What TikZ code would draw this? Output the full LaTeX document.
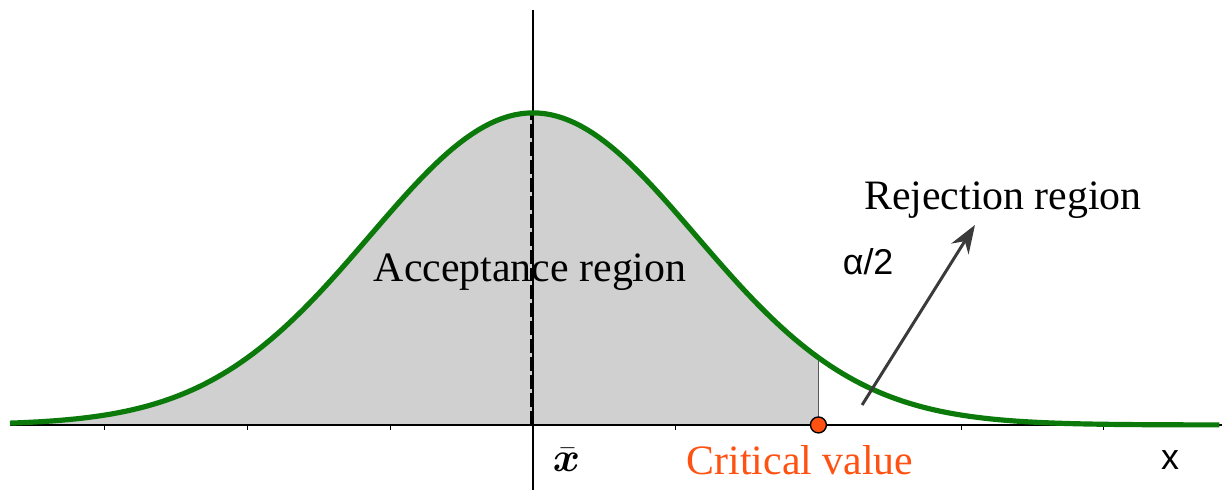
\documentclass[tikz,border=0pt]{standalone}
\usepackage{fontspec}
\setmainfont{Liberation Serif}
\newfontfamily\plotsans{Liberation Sans}
\usepackage{amsmath}
\usepackage{bm}
\usetikzlibrary{arrows.meta}
\definecolor{CurveGreen}{HTML}{0B7A0B}
\definecolor{RegionGray}{HTML}{D0D0D0}
\definecolor{CritOrange}{HTML}{FF5212}
\definecolor{ArrowInk}{HTML}{3A3A3A}

\begin{document}
\begin{tikzpicture}[x=2.517cm,y=5.503cm,font=\fontsize{21}{24}\selectfont]
  \useasboundingbox (-3.735,-0.2083) rectangle (4.828,1.362);
  % shaded acceptance area
  \fill[RegionGray] plot[domain=-3.665:2,samples=160] (\x,{exp(-\x*\x/(2*1.142*1.142))})
    -- (2,0) -- (-3.665,0) -- cycle;
  \draw[gray!70!black,thin] (2,0) -- (2,{exp(-4/(2*1.142*1.142))});
  % axes
  \draw[black,line width=0.6pt] (-3.665,0) -- (4.828,0);
  \foreach \t in {-3,-2,-1,1,2,3,4}
    \draw[black,line width=0.6pt] (\t,0) -- (\t,-0.016);
  \draw[black,line width=0.6pt] (0,1.33) -- (0,-0.2083);
  \draw[black,line width=1.4pt,dash pattern=on 7pt off 2pt] (-0.012,0) -- (-0.012,1);
  % density curve
  \draw[CurveGreen,line width=2.6pt] plot[domain=-3.665:4.81,samples=200]
    (\x,{exp(-\x*\x/(2*1.142*1.142))});
  \node (accept) at (-0.02,0.49) {Acceptance region};
  \node (reject) at (3.293,0.721) {Rejection region};
  \node (alpha) at (2.348,0.522) {\fontsize{18}{20}\selectfont\plotsans α/2};
  \coordinate (tail) at (2.306,0.064);
  \coordinate (head) at (3.097,0.641);
  \draw[ArrowInk,line width=1.5pt,-{Stealth[length=5mm,width=3.6mm]}] (tail) -- (head);
  \filldraw[fill=CritOrange,draw=black,line width=0.7pt] (2,0) circle (4pt);
  \node[text=CritOrange] (crit) at (1.871,-0.112) {Critical value};
  \node[inner sep=1pt] (xbar) at (0.234,-0.112) {$\bm{\bar{x}}$};
  \node (xlab) at (4.464,-0.112) {\fontsize{18}{20}\selectfont\plotsans x};
\end{tikzpicture}
\end{document}
